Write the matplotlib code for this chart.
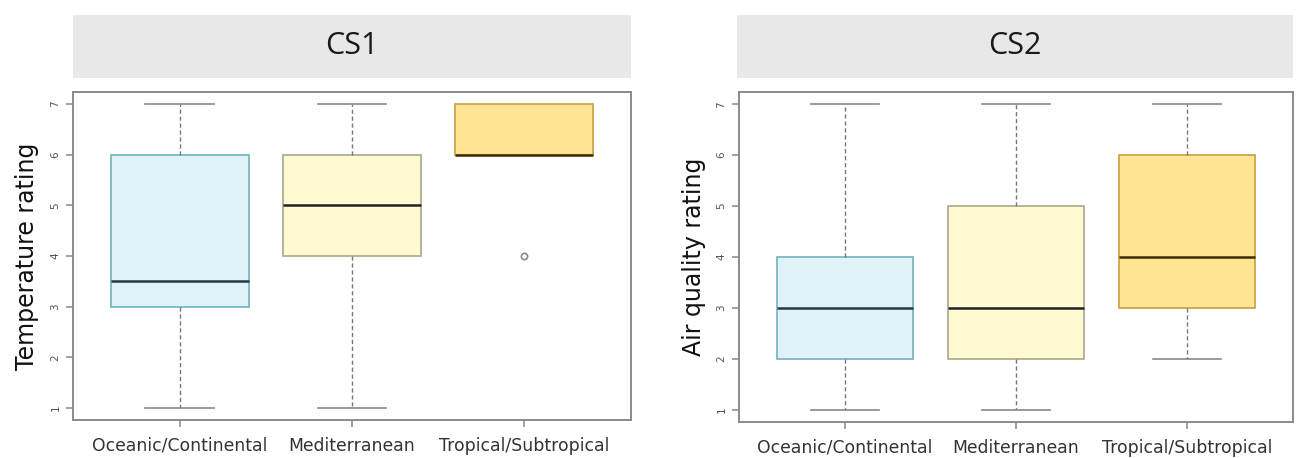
import matplotlib.pyplot as plt
from matplotlib.patches import Rectangle

# climate groups on the x axis
groups = ["Oceanic/Continental", "Mediterranean", "Tropical/Subtropical"]
y_ticks = [1, 2, 3, 4, 5, 6, 7]

# CS1 - temperature rating (five-number summaries)
cs1_whislo = [1, 1, 6]
cs1_q1 = [3, 4, 6]
cs1_med = [3.5, 5, 6]
cs1_q3 = [6, 6, 7]
cs1_whishi = [7, 7, 7]
cs1_fliers = [[], [], [4]]

# CS2 - air quality rating
cs2_whislo = [1, 1, 2]
cs2_q1 = [2, 2, 3]
cs2_med = [3, 3, 4]
cs2_q3 = [4, 5, 6]
cs2_whishi = [7, 7, 7]
cs2_fliers = [[], [], []]

fills = ["#e0f1f8", "#fffad2", "#ffe594"]
edges = ["#6fb3bd", "#a8a88a", "#c8a040"]
median_cols = ["#1f3c40", "#222222", "#3a2c00"]

W, H = 1300, 458
fig = plt.figure(figsize=(13, 4.58), dpi=100)


def px_axes(x0, y0, x1, y1):
    return [x0 / W, 1 - y1 / H, (x1 - x0) / W, (y1 - y0) / H]


def panel(rect, strip, title, ylabel, ylab_x, whislo, q1, med, q3, whishi, fliers):
    ax = fig.add_axes(px_axes(*rect))
    stats = []
    for i in range(len(groups)):
        stats.append({"whislo": whislo[i], "q1": q1[i], "med": med[i],
                      "q3": q3[i], "whishi": whishi[i], "fliers": fliers[i]})
    b = ax.bxp(stats, positions=[1, 2, 3], widths=0.8, patch_artist=True,
               showfliers=True,
               whiskerprops=dict(color="#777777", linestyle=(0, (3, 2)), linewidth=1),
               capprops=dict(color="#888888", linewidth=1.2),
               flierprops=dict(marker="o", markerfacecolor="none",
                               markeredgecolor="#888888", markersize=4.5,
                               markeredgewidth=1.2))
    # R draws no whisker/cap when whisker coincides with the box edge
    for i in range(len(groups)):
        b["boxes"][i].set_facecolor(fills[i])
        b["boxes"][i].set_edgecolor(edges[i])
        b["boxes"][i].set_linewidth(1.2)
        b["medians"][i].set_color(median_cols[i])
        b["medians"][i].set_linewidth(1.8)
        if whislo[i] == q1[i]:
            b["whiskers"][2 * i].set_visible(False)
            b["caps"][2 * i].set_visible(False)
        if whishi[i] == q3[i]:
            b["whiskers"][2 * i + 1].set_visible(False)
            b["caps"][2 * i + 1].set_visible(False)

    ax.set_xlim(0.38, 3.62)
    ax.set_ylim(0.76, 7.24)
    ax.set_yticks(y_ticks)
    ax.set_yticklabels([str(v) for v in y_ticks], rotation=90, va="center",
                       fontsize=7.5, color="#555555")
    ax.set_xticks([1, 2, 3])
    ax.set_xticklabels(groups, fontsize=12.4, color="#333333")
    ax.tick_params(axis="both", colors="#888888", length=5, width=1.1)
    ax.tick_params(axis="x", labelcolor="#333333", pad=7)
    ax.tick_params(axis="y", labelcolor="#555555", pad=4)
    for s in ax.spines.values():
        s.set_color("#8a8a8a")
        s.set_linewidth(1.4)
    ax.set_ylabel(ylabel, fontsize=17, color="#111111")
    ax.yaxis.set_label_coords((ylab_x - rect[0]) / (rect[2] - rect[0]), 0.5)

    x0, y0, x1, y1 = strip
    fig.patches.append(Rectangle((x0 / W, 1 - y1 / H), (x1 - x0) / W, (y1 - y0) / H,
                                 transform=fig.transFigure, facecolor="#e8e8e8",
                                 edgecolor="none"))
    fig.text((x0 + x1) / 2 / W, 1 - (y0 + y1) / 2 / H, title, ha="center",
             va="center", fontsize=22, color="#1a1a1a", family="Open Sans")
    return ax


panel((73, 92, 631, 420), (73, 15, 631, 78), "CS1", "Temperature rating", 39,
      cs1_whislo, cs1_q1, cs1_med, cs1_q3, cs1_whishi, cs1_fliers)
panel((739, 92, 1293, 422), (737, 15, 1293, 78), "CS2", "Air quality rating", 706,
      cs2_whislo, cs2_q1, cs2_med, cs2_q3, cs2_whishi, cs2_fliers)

fig.savefig("out.png", dpi=100, facecolor="white")
